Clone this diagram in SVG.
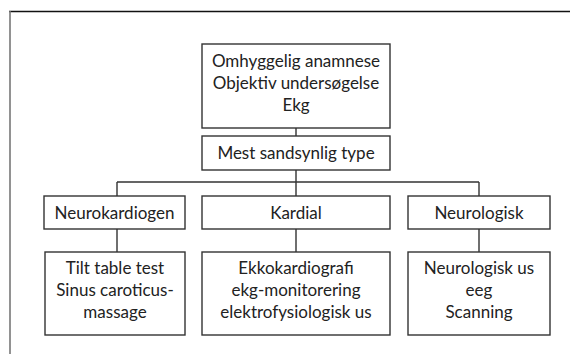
<svg xmlns="http://www.w3.org/2000/svg" width="570" height="354" viewBox="0 0 570 354">
<style>
.box{fill:#fff;stroke:#333;stroke-width:1.4}
.ln{fill:none;stroke:#333;stroke-width:1.4}
text{font-family:Lato,"Open Sans",sans-serif;font-size:17px;fill:#222;text-anchor:middle}
</style>
<rect width="570" height="354" fill="#fff"/>
<g id="frame">
<line x1="9" y1="11.5" x2="570" y2="11.5" stroke="#111" stroke-width="1.4"/>
<line x1="10" y1="11" x2="10" y2="354" stroke="#777" stroke-width="1.6"/>
</g>
<g id="connectors">
<path class="ln" d="M296 128V136M296 170V182M117 182H479M117 182V196M296 182V196M479 182V196M117 229V252M296 229V252M479 229V252"/>
</g>
<g id="n-top">
<rect class="box" x="202" y="44" width="188" height="84"/>
<text x="296" y="67">Omhyggelig anamnese</text>
<text x="296" y="89">Objektiv undersøgelse</text>
<text x="296" y="111">Ekg</text>
</g>
<g id="n-mest">
<rect class="box" x="202" y="136" width="188" height="34"/>
<text x="296" y="159">Mest sandsynlig type</text>
</g>
<g id="n-neurokardiogen">
<rect class="box" x="44" y="196" width="141" height="33"/>
<text x="114.5" y="219">Neurokardiogen</text>
</g>
<g id="n-kardial">
<rect class="box" x="202" y="196" width="188" height="33"/>
<text x="296" y="219">Kardial</text>
</g>
<g id="n-neurologisk">
<rect class="box" x="408" y="196" width="142" height="33"/>
<text x="479" y="219">Neurologisk</text>
</g>
<g id="n-tilt">
<rect class="box" x="45" y="252" width="140" height="83"/>
<text x="115" y="274">Tilt table test</text>
<text x="115" y="296">Sinus caroticus-</text>
<text x="115" y="318">massage</text>
</g>
<g id="n-ekko">
<rect class="box" x="202" y="252" width="188" height="83"/>
<text x="296" y="274">Ekkokardiografi</text>
<text x="296" y="296">ekg-monitorering</text>
<text x="296" y="318">elektrofysiologisk us</text>
</g>
<g id="n-neurous">
<rect class="box" x="408" y="252" width="142" height="83"/>
<text x="479" y="274">Neurologisk us</text>
<text x="479" y="296">eeg</text>
<text x="479" y="318">Scanning</text>
</g>
</svg>
